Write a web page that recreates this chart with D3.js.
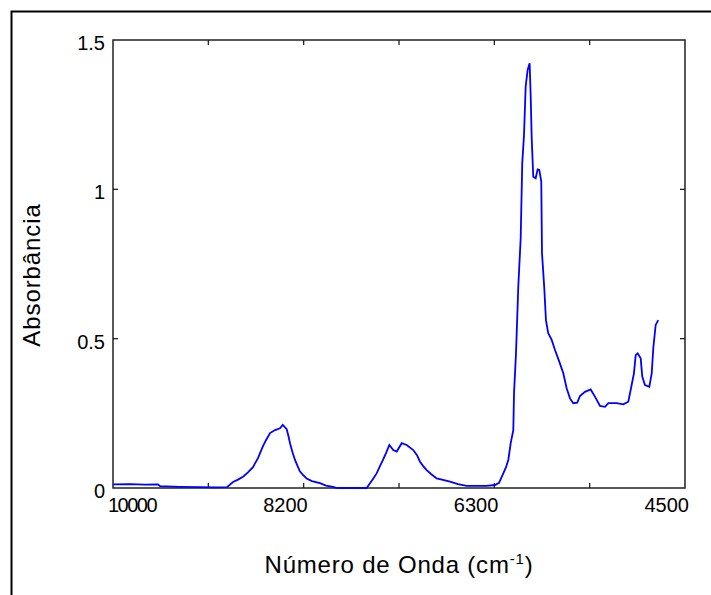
<!DOCTYPE html>
<html><head><meta charset="utf-8">
<script src="https://cdn.jsdelivr.net/npm/d3@7"></script>
<style>body{margin:0;background:#fff}svg{display:block}text{font-family:"Liberation Sans",Arial,sans-serif;fill:#000}</style>
</head><body><svg id="c" width="711" height="595"></svg>
<script>
// wavenumber (cm-1) and absorbance
const wavenumber = [10000,9837,9692,9567,9548,9356,9163,9019,8904,8846,8798,8750,8702,8654,8606,8558,8529,8490,8442,8394,8368,8330,8313,8298,8274,8250,8226,8202,8173,8138,8087,8010,7952,7885,7846,7561,7529,7500,7465,7432,7404,7375,7343,7305,7272,7224,7176,7113,7077,7048,7019,6984,6942,6888,6827,6760,6683,6599,6407,6327,6288,6247,6221,6199,6176,6151,6144,6125,6103,6080,6065,6048,6032,6013,5994,5984,5974,5959,5936,5917,5901,5882,5875,5853,5837,5815,5782,5750,5709,5670,5638,5606,5574,5536,5510,5462,5407,5366,5317,5269,5237,5157,5093,5045,5013,4991,4974,4955,4926,4911,4885,4843,4820,4805,4782,4757];
const absorbance = [0.012,0.013,0.011,0.012,0.006,0.004,0.003,0.002,0.003,0.02,0.028,0.038,0.052,0.07,0.1,0.14,0.16,0.184,0.194,0.2,0.211,0.197,0.174,0.15,0.12,0.094,0.074,0.055,0.044,0.032,0.023,0.016,0.008,0.004,0,0,0.016,0.03,0.049,0.074,0.094,0.117,0.144,0.127,0.122,0.15,0.144,0.127,0.11,0.088,0.074,0.06,0.047,0.032,0.027,0.021,0.013,0.007,0.007,0.01,0.017,0.049,0.07,0.094,0.15,0.194,0.317,0.451,0.674,0.836,1.087,1.182,1.344,1.4,1.422,1.316,1.171,1.042,1.037,1.067,1.065,1.026,0.786,0.669,0.562,0.518,0.496,0.462,0.423,0.384,0.334,0.3,0.284,0.286,0.308,0.322,0.33,0.306,0.275,0.272,0.284,0.284,0.28,0.289,0.345,0.384,0.445,0.451,0.434,0.373,0.345,0.339,0.384,0.468,0.546,0.562];
const xTickCount = 6; // intervals between 10000 and 4500
const xTickLabels = ["10000","8200","6300","4500"];
const yTickValues = [0,0.5,1,1.5];
const yTickLabels = ["0","0.5","1","1.5"];

const svg = d3.select("#c");
const L=113,R=685,T=40,B=488;
const x = d3.scaleLinear().domain([10000,4500]).range([L,R]);
const y = d3.scaleLinear().domain([0,1.5]).range([B,T]);

// outer frame (top and left only visible)
svg.append("path").attr("d","M11.5,595V11.5H711").attr("fill","none").attr("stroke","#000").attr("stroke-width",2);

const xTicks = d3.range(xTickCount+1).map(i=>10000 - i*5500/xTickCount);
const g = svg.append("g");
g.append("rect").attr("x",L).attr("y",T).attr("width",R-L).attr("height",B-T)
 .attr("fill","none").attr("stroke","#222").attr("stroke-width",1.5);
const tl=5;
xTicks.slice(1,-1).forEach(v=>{
  g.append("line").attr("x1",x(v)).attr("x2",x(v)).attr("y1",B).attr("y2",B-tl).attr("stroke","#222").attr("stroke-width",1.3);
  g.append("line").attr("x1",x(v)).attr("x2",x(v)).attr("y1",T).attr("y2",T+tl).attr("stroke","#222").attr("stroke-width",1.3);
});
yTickValues.slice(1,-1).forEach(v=>{
  g.append("line").attr("x1",L).attr("x2",L+tl).attr("y1",y(v)).attr("y2",y(v)).attr("stroke","#222").attr("stroke-width",1.3);
  g.append("line").attr("x1",R).attr("x2",R-tl).attr("y1",y(v)).attr("y2",y(v)).attr("stroke","#222").attr("stroke-width",1.3);
});

// spectrum
const line = d3.line().x((d,i)=>x(wavenumber[i])).y(d=>y(d));
svg.append("path").datum(absorbance).attr("d",line).attr("fill","none")
 .attr("stroke","#0000ff").attr("stroke-width",1.8).attr("stroke-linejoin","miter");

// x tick labels at ticks 0,2,4,6
xTickLabels.forEach((t,i)=>{
  const px = x(xTicks[i*2]);
  svg.append("text").attr("x", i===0 ? px-5 : px+4).attr("y",512)
    .attr("text-anchor", i===0 ? "start":"end").attr("font-size",20)
    .attr("letter-spacing", i===0 ? -1.5 : 0).text(t);
});
yTickValues.forEach((v,i)=>{
  svg.append("text").attr("x",105).attr("y",y(v)+10).attr("text-anchor","end").attr("font-size",20).text(yTickLabels[i]);
});
// axis titles
const xt = svg.append("text").attr("x",399).attr("y",573).attr("text-anchor","middle").attr("font-size",24).attr("letter-spacing",0.8);
xt.append("tspan").text("Número de Onda (cm");
xt.append("tspan").attr("font-size",15).attr("dy",-9).text("-1");
xt.append("tspan").attr("dy",9).text(")");
svg.append("text").attr("transform","translate(40,275) rotate(-90)").attr("text-anchor","middle").attr("font-size",24).attr("letter-spacing",0.9).text("Absorbância");
</script></body></html>
